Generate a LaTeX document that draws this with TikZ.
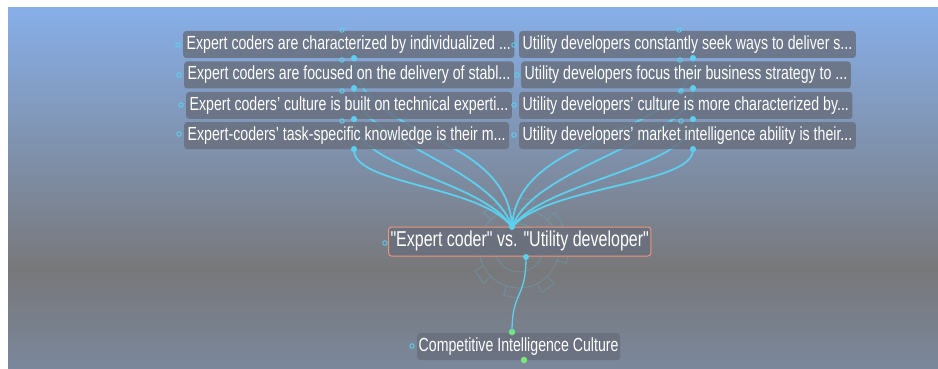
\documentclass[tikz,border=0pt]{standalone}
\usepackage{fontspec}
\usetikzlibrary{calc}
\setmainfont{Liberation Sans}
\newfontfamily\nf[FakeStretch=0.745]{Liberation Sans}
\definecolor{bgtop}{RGB}{135,175,232}
\definecolor{bgmid}{RGB}{120,120,122}
\definecolor{bgbot}{RGB}{122,135,156}
\definecolor{boxgray}{RGB}{104,110,124}
\definecolor{cyanl}{RGB}{92,208,238}
\definecolor{salmon}{RGB}{232,150,125}
\definecolor{greenl}{RGB}{120,230,120}
\begin{document}
\begin{tikzpicture}[x=1pt,y=-1pt,
  box/.style={fill=boxgray, fill opacity=0.82, text opacity=1, rounded corners=3pt,
    text=white, font=\nf\fontsize{19}{19}\selectfont, inner xsep=3.5pt, inner ysep=4.25pt,
    text height=14pt, text depth=4.5pt, anchor=west},
  mainbox/.style={box, draw=salmon, line width=1pt, font=\nf\fontsize{21.5}{22}\selectfont,
    text height=15.5pt, text depth=5pt, inner ysep=4.25pt, inner xsep=2pt},
  port/.style={circle, draw=cyanl, line width=0.9pt, inner sep=0pt, minimum size=4.5pt},
  dot/.style={circle, fill=cyanl, inner sep=0pt, minimum size=6pt},
  gdot/.style={circle, fill=greenl, inner sep=0pt, minimum size=6.5pt},
  link/.style={draw=cyanl, line width=1.8pt},
  faint/.style={draw=cyanl, line width=0.9pt, opacity=0.22}]
\useasboundingbox (0,0) rectangle (938,369);
% background
\shade[top color=bgtop, bottom color=bgmid] (8,8) rectangle (938,270);
\shade[top color=bgmid, bottom color=bgbot] (8,269.5) rectangle (938,369);

% faint icon
\draw[faint] (519,248) circle (40);
\draw[faint] (519,248) circle (24);
\foreach \a in {0,45,...,315}{
  \draw[faint] ($(519,248)+(\a:40)$) -- ($(519,248)+(\a:50)$) -- ($(519,248)+(\a+18:50)$) -- ($(519,248)+(\a+18:40)$);
}

% dots on the top boxes (connector ends)
\node[dot] (L1d) at (354,58) {};
\node[dot] (L2d) at (354,88) {};
\node[dot] (L3d) at (354,119) {};
\node[dot] (L4d) at (354,149) {};
\node[dot] (R1d) at (693,58) {};
\node[dot] (R2d) at (693,88) {};
\node[dot] (R3d) at (693,119) {};
\node[dot] (R4d) at (693,149) {};
\coordinate (Ct) at (512,227);

% connectors (behind boxes)
\draw[link] (L1d.center) .. controls (356,140) and (508,130) .. (Ct);
\draw[link] (L2d.center) .. controls (354,140) and (492,165) .. (Ct);
\draw[link] (L3d.center) .. controls (354,168) and (482,180) .. (Ct);
\draw[link] (L4d.center) .. controls (352,185) and (480,185) .. (Ct);
\draw[link] (R1d.center) .. controls (691,140) and (517,130) .. (Ct);
\draw[link] (R2d.center) .. controls (693,140) and (535,165) .. (Ct);
\draw[link] (R3d.center) .. controls (693,168) and (546,180) .. (Ct);
\draw[link] (R4d.center) .. controls (695,185) and (549,185) .. (Ct);

% boxes
\node[box] (L1) at (183,44.5) {Expert coders are characterized by individualized ...};
\node[box] (L2) at (184,75) {Expert coders are focused on the delivery of stabl...};
\node[box] (L3) at (186,105.5) {Expert coders’ culture is built on technical experti...};
\node[box] (L4) at (184,135.5) {Expert-coders’ task-specific knowledge is their m...};
\node[box] (R1) at (519,44.5) {Utility developers constantly seek ways to deliver s...};
\node[box] (R2) at (521,75) {Utility developers focus their business strategy to ...};
\node[box] (R3) at (519,105.5) {Utility developers’ culture is more characterized by...};
\node[box] (R4) at (519,135.5) {Utility developers’ market intelligence ability is their...};

\node[mainbox] (C) at (388,241.5) {"Expert coder" vs. "Utility developer"};
\node[box, inner xsep=1.5pt] (B) at (417,346.5) {Competitive Intelligence Culture};

% connector central -> bottom
\node[dot] (Cd) at (526,257) {};
\node[gdot] (Bt) at (512,332) {};
\draw[draw=cyanl, line width=1.3pt] (Cd.center) .. controls (526,300) and (512,290) .. (Bt.center);
\node[gdot] (Bb) at (524,360) {};
\node[dot] at (Ct) {};

% ports
\foreach \p/\x/\y in {a/178/45, b/179/75, c/181/105, d/179/134,
                     e/514/45, f/517/75, g/514/105, h/514/135,
                     i/342/30, j/342/60, k/342/91, l/342/121,
                     m/679/30, n/680/60, o/681/91, q/681/121,
                     r/385/243, s/412/346}{
  \node[port] (P\p) at (\x,\y) {};
}
% redraw dots above boxes
\foreach \n in {L1d,L2d,L3d,L4d,R1d,R2d,R3d,R4d}{
  \fill[cyanl] (\n) circle (3pt);
}
\end{tikzpicture}
\end{document}
